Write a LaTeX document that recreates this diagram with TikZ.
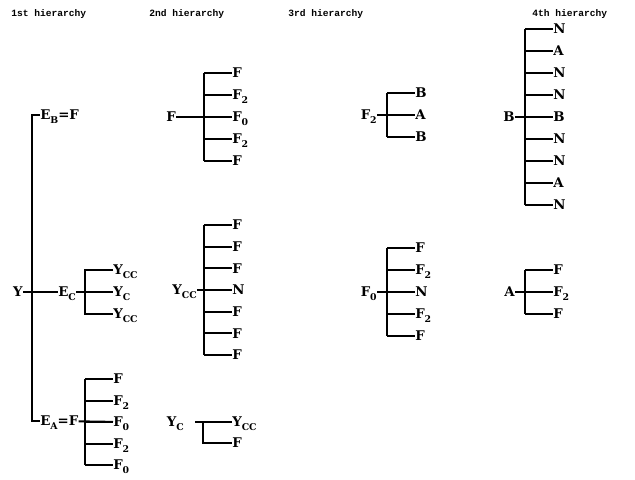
\documentclass[tikz,border=0pt]{standalone}
\usepackage{fontspec}
\setmainfont{DejaVu Serif}
\newfontfamily\hdrfont{Liberation Mono}
\newcommand\lo[1]{\raisebox{-0.3em}{\fontsize{7}{7}\selectfont #1}}
\begin{document}
\begin{tikzpicture}[x=0.75pt,y=-0.75pt,
  lbl/.style={inner sep=0pt, text height=7.3pt, text depth=0pt, font=\fontsize{10}{10}\selectfont\bfseries},
  hdr/.style={inner sep=0pt, anchor=base west, font=\hdrfont\fontsize{7.2}{7.2}\selectfont\bfseries},
  wire/.style={line width=1.5pt}]
\useasboundingbox (0,0) rectangle (635,479);
% headers
\node[hdr] (h1) at (11,16) {1st hierarchy};
\node[hdr] (h2) at (149,16) {2nd hierarchy};
\node[hdr] (h3) at (288,16) {3rd hierarchy};
\node[hdr] (h4) at (532,16) {4th hierarchy};

% ---------- 1st hierarchy
\node[lbl,anchor=west] (eb) at (40,115) {E\lo{B}=F};
\node[lbl,anchor=west] (ea) at (40,421) {E\lo{A}=F};
\node[lbl,anchor=east] (y) at (23,292) {Y};
\node[lbl,anchor=west] (ec) at (58,292) {E\lo{C}};
\coordinate (tr) at (32,292);
\draw[wire] (eb.west) -- (eb.west -| tr) -- (ea.west -| tr) -- (ea.west);
\draw[wire] (y) -- (ec);
% E_C group
\coordinate (v1) at (85,0);
\node[lbl,anchor=west] (c1) at (113,270) {Y\lo{CC}};
\node[lbl,anchor=west] (c2) at (113,292) {Y\lo{C}};
\node[lbl,anchor=west] (c3) at (113,314) {Y\lo{CC}};
\draw[wire] (c1.west) -- (c1.west -| v1) -- (c3.west -| v1) -- (c3.west);
\draw[wire] (ec) -- (c2);
% E_A group
\foreach \yy/\tt [count=\i] in {379/F,400.5/{F\lo{2}},422/{F\lo{0}},443.5/{F\lo{2}},465/{F\lo{0}}}{
  \node[lbl,anchor=west] (a\i) at (113,\yy) {\tt};
  \draw[wire] (a\i.west -| v1) -- (a\i.west);}
\draw[wire] (a1.west -| v1) -- (a5.west -| v1);
\draw[wire] (ea) -- (a3);

% ---------- 2nd hierarchy
\coordinate (v2) at (204,0);
\node[lbl,anchor=east] (r2a) at (176,117) {F};
\foreach \yy/\tt [count=\i] in {73/F,95/{F\lo{2}},117/{F\lo{0}},139/{F\lo{2}},161/F}{
  \node[lbl,anchor=west] (p\i) at (232,\yy) {\tt};
  \draw[wire] (p\i.west -| v2) -- (p\i.west);}
\draw[wire] (p1.west -| v2) -- (p5.west -| v2);
\draw[wire] (r2a) -- (p3);

\node[lbl,anchor=east] (r2b) at (197,290) {Y\lo{CC}};
\foreach \yy/\tt [count=\i] in {225/F,246.7/F,268.3/F,290/N,311.7/F,333.3/F,355/F}{
  \node[lbl,anchor=west] (q\i) at (232,\yy) {\tt};
  \draw[wire] (q\i.west -| v2) -- (q\i.west);}
\draw[wire] (q1.west -| v2) -- (q7.west -| v2);
\draw[wire] (r2b) -- (q4);

\node[lbl,anchor=east] (r2c) at (184,422) {Y\lo{C}};
\coordinate (s0) at (195,422);
\coordinate (v2c) at (203,0);
\node[lbl,anchor=west] (s1) at (232,422) {Y\lo{CC}};
\node[lbl,anchor=west] (s2) at (232,443) {F};
\draw[wire] (s0) -- (s1);
\draw[wire] (s1.west -| v2c) -- (s2.west -| v2c) -- (s2.west);

% ---------- 3rd hierarchy
\coordinate (v3) at (387,0);
\node[lbl,anchor=east] (r3a) at (377,115) {F\lo{2}};
\foreach \yy/\tt [count=\i] in {93/B,115/A,137/B}{
  \node[lbl,anchor=west] (u\i) at (415,\yy) {\tt};
  \draw[wire] (u\i.west -| v3) -- (u\i.west);}
\draw[wire] (u1.west -| v3) -- (u3.west -| v3);
\draw[wire] (r3a) -- (u2);

\node[lbl,anchor=east] (r3b) at (377,292) {F\lo{0}};
\foreach \yy/\tt [count=\i] in {248/F,270/{F\lo{2}},292/N,314/{F\lo{2}},336/F}{
  \node[lbl,anchor=west] (w\i) at (415,\yy) {\tt};
  \draw[wire] (w\i.west -| v3) -- (w\i.west);}
\draw[wire] (w1.west -| v3) -- (w5.west -| v3);
\draw[wire] (r3b) -- (w3);

% ---------- 4th hierarchy
\coordinate (v4) at (525,0);
\node[lbl,anchor=east] (r4a) at (515,117) {B};
\foreach \yy/\tt [count=\i] in {29/N,51/A,73/N,95/N,117/B,139/N,161/N,183/A,205/N}{
  \node[lbl,anchor=west] (m\i) at (553,\yy) {\tt};
  \draw[wire] (m\i.west -| v4) -- (m\i.west);}
\draw[wire] (m1.west -| v4) -- (m9.west -| v4);
\draw[wire] (r4a) -- (m5);

\node[lbl,anchor=east] (r4b) at (515,292) {A};
\foreach \yy/\tt [count=\i] in {270/F,292/{F\lo{2}},314/F}{
  \node[lbl,anchor=west] (k\i) at (553,\yy) {\tt};
  \draw[wire] (k\i.west -| v4) -- (k\i.west);}
\draw[wire] (k1.west -| v4) -- (k3.west -| v4);
\draw[wire] (r4b) -- (k2);
\end{tikzpicture}
\end{document}
